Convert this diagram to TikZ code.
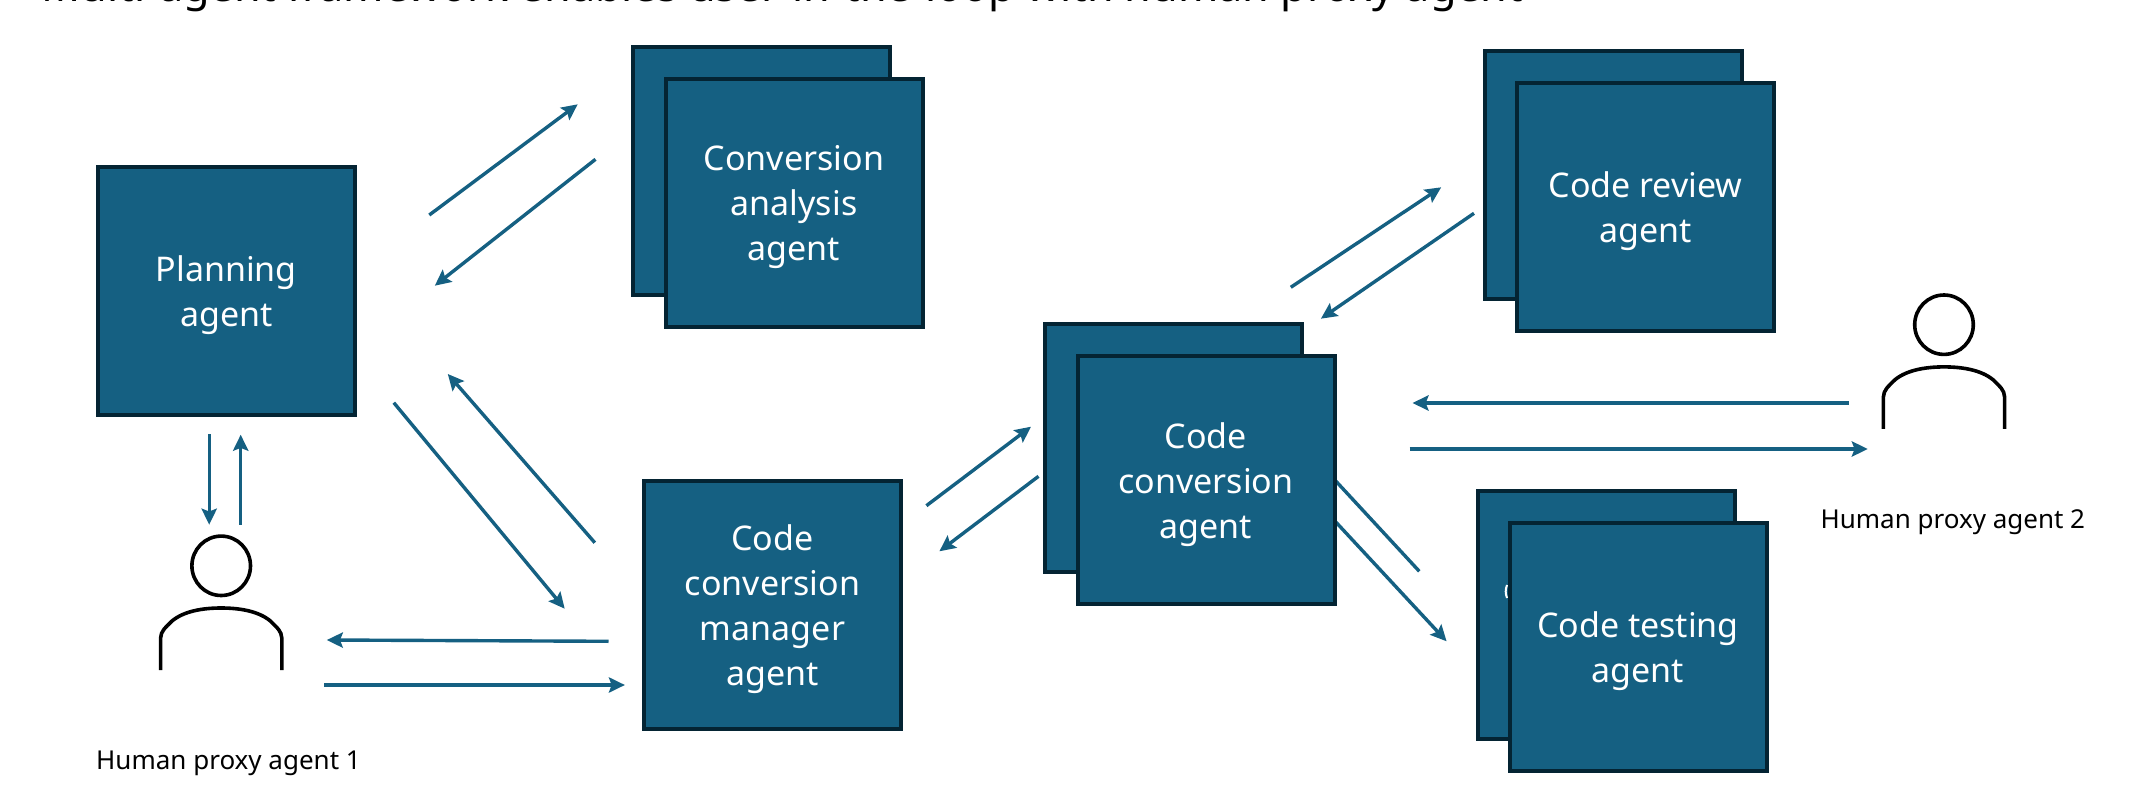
\documentclass[tikz,border=0pt]{standalone}
\usepackage{fontspec}
\setmainfont{Noto Sans}
\usetikzlibrary{arrows.meta}
\definecolor{agentblue}{HTML}{156082}
\definecolor{agentedge}{HTML}{042433}
\newcommand{\agenttext}[1]{\raisebox{-2pt}[\height][\depth]{\parbox{128pt}{\centering #1}}}
\tikzset{
  agent/.style={draw=agentedge,fill=agentblue,line width=2pt,minimum width=128.5pt,minimum height=124pt,
    inner sep=0pt,text=white,font=\fontsize{17}{22.5}\selectfont},
  link/.style={draw=agentblue,line width=1.7pt,-{Stealth[length=8pt,width=7.6pt,inset=1.4pt]}},
  person/.style={draw=black,line width=1.8pt},
  proxylabel/.style={font=\fontsize{13}{15}\selectfont,text=black,inner sep=0pt}
}
\begin{document}
\begin{tikzpicture}[x=0.5pt,y=-0.5pt]
\useasboundingbox (0,0) rectangle (2144,792);
\node[inner sep=0pt,anchor=base west,font=\fontsize{21.6}{24}\selectfont] (title) at (41,1.5) {Multi-agent framework enables user-in-the-loop with human proxy agent};

% end points of the links
\coordinate (p1) at (429.3,215);
\coordinate (a1) at (577.7,104.3);
\coordinate (a2) at (595.5,159.3);
\coordinate (p2) at (434.8,285.7);
\coordinate (m1) at (594.8,542.7);
\coordinate (p3) at (447.8,374);
\coordinate (p4) at (393.8,402.7);
\coordinate (m2) at (564.7,608.7);
\coordinate (p5) at (209.2,434);
\coordinate (h1) at (209.2,524.7);
\coordinate (h2) at (240.7,524.7);
\coordinate (p6) at (240.7,434.7);
\coordinate (m3) at (608.5,641.3);
\coordinate (h3) at (326.8,640);
\coordinate (h4) at (324,685);
\coordinate (m4) at (624.9,685);
\coordinate (m5) at (926.4,505.7);
\coordinate (c1) at (1031,426.7);
\coordinate (c2) at (1038.5,476.3);
\coordinate (m6) at (939.4,551.3);
\coordinate (c3) at (1290.8,287.3);
\coordinate (r1) at (1441.2,187.3);
\coordinate (r2) at (1474,213.3);
\coordinate (c4) at (1320.9,318.7);
\coordinate (k1) at (1848.7,403);
\coordinate (c5) at (1412.5,403);
\coordinate (c6) at (1409.7,449);
\coordinate (k2) at (1867.8,449);
\coordinate (t1) at (1419.3,571.3);
\coordinate (c7) at (1320,464);
\coordinate (c8) at (1320,505);
\coordinate (t2) at (1446.6,641.3);

\path[link] (t1) -- (c7);
\path[link] (c8) -- (t2);

\node[agent] (analysisback) at (761.9,170.8) {};
\node[agent] (analysis) at (794,202.8) {\agenttext{Conversion\\analysis\\agent}};
\node[agent] (reviewback) at (1613.5,175.3) {};
\node[agent] (review) at (1645.6,207.3) {\agenttext{Code review\\agent}};
\node[agent] (conversionback) at (1173.9,448.3) {};
\node[agent] (conversion) at (1206,480.3) {\agenttext{Code\\conversion\\agent}};
\node[agent] (testingback) at (1606,615) {};
\draw[white,line width=1pt] (1507,585) to[bend right=20] (1507,598);
\node[agent] (testing) at (1638,647) {\agenttext{Code testing\\agent}};
\node[agent] (planning) at (226.3,290.8) {\agenttext{Planning\\agent}};
\node[agent] (manager) at (772.5,605.3) {\agenttext{Code\\conversion\\manager\\agent}};

\path[link] (p1) -- (a1);
\path[link] (a2) -- (p2);
\path[link] (m1) -- (p3);
\path[link] (p4) -- (m2);
\path[link] (p5) -- (h1);
\path[link] (h2) -- (p6);
\path[link] (m3) -- (h3);
\path[link] (h4) -- (m4);
\path[link] (m5) -- (c1);
\path[link] (c2) -- (m6);
\path[link] (c3) -- (r1);
\path[link] (r2) -- (c4);
\path[link] (k1) -- (c5);
\path[link] (c6) -- (k2);

% the two proxy figures
\draw[person] (221.2,565.8) ellipse (29.3 and 29.7);
\draw[person] (160.6,670) -- (160.6,638) .. controls (161,631) and (165,628) .. (172,621) .. controls (184,611) and (203,608) .. (221.2,608) .. controls (239.4,608) and (258.4,611) .. (270.4,621) .. controls (277.4,628) and (281.4,631) .. (281.8,638) -- (281.8,670);
\draw[person] (1944,324.7) ellipse (29.3 and 29.7);
\draw[person] (1883.4,428.9) -- (1883.4,396.9) .. controls (1883.8,389.9) and (1887.8,386.9) .. (1894.8,379.9) .. controls (1906.8,369.9) and (1925.8,366.9) .. (1944,366.9) .. controls (1962.2,366.9) and (1981.2,369.9) .. (1993.2,379.9) .. controls (2000.2,386.9) and (2004.2,389.9) .. (2004.6,396.9) -- (2004.6,428.9);
\node[proxylabel] (proxy1) at (228.5,763) {Human proxy agent 1};
\node[proxylabel] (proxy2) at (1952.8,522) {Human proxy agent 2};
\end{tikzpicture}
\end{document}
